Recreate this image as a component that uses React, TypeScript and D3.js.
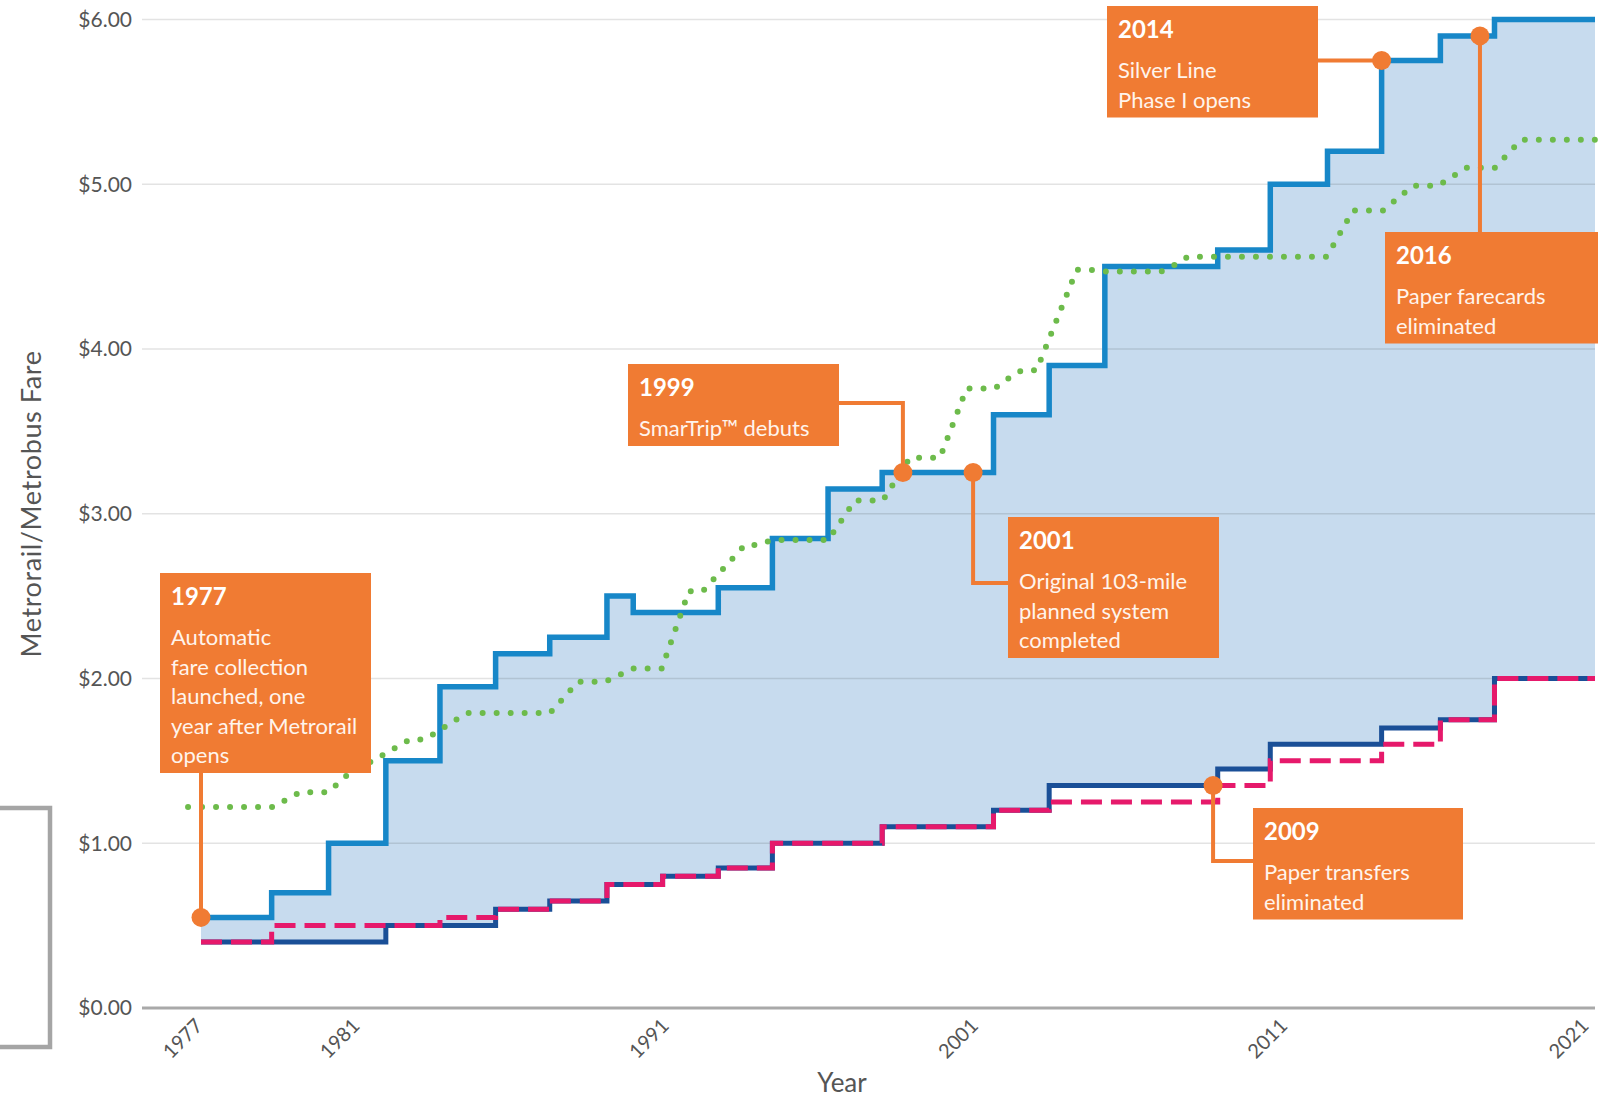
import React from "react";
import * as d3 from "d3";

// fare change dates (fractional years) shared by the three fare series
const fareYears = [
  1977, 1978.8, 1980.25, 1981.9, 1983.65, 1985.45, 1987.2, 1989.05, 1989.9, 1990.85,
  1992.65, 1994.4, 1996.2, 1997.95, 2001.55, 2003.35, 2005.15, 2008.8, 2010.5, 2012.35,
  2014.1, 2016.0, 2017.75, 2021,
];
const railMaxFare = [
  0.55, 0.7, 1.0, 1.5, 1.95, 2.15, 2.25, 2.5, 2.4, 2.4,
  2.55, 2.85, 3.15, 3.25, 3.6, 3.9, 4.5, 4.6, 5.0, 5.2,
  5.75, 5.9, 6.0, 6.0,
];
const railMinFare = [
  0.4, 0.4, 0.4, 0.5, 0.5, 0.6, 0.65, 0.75, 0.75, 0.8,
  0.85, 1.0, 1.0, 1.1, 1.2, 1.35, 1.35, 1.45, 1.6, 1.6,
  1.7, 1.75, 2.0, 2.0,
];
const busFare = [
  0.4, 0.5, 0.5, 0.5, 0.55, 0.6, 0.65, 0.75, 0.75, 0.8,
  0.85, 1.0, 1.0, 1.1, 1.2, 1.25, 1.25, 1.35, 1.5, 1.5,
  1.6, 1.75, 2.0, 2.0,
];

// dotted green series
const cpiYears = [
  1976.67, 1978.83, 1979.52, 1980.24, 1980.71, 1982.68, 1983.17, 1984.51, 1987.21, 1988.11,
  1988.99, 1989.89, 1990.82, 1991.7, 1992.15, 1993.51, 1993.93, 1994.38, 1996.2, 1997.07,
  1997.97, 1998.85, 1999.82, 2000.68, 2001.59, 2002.03, 2002.46, 2002.94, 2004.24, 2004.72,
  2005.15, 2006.98, 2007.41, 2007.84, 2012.33, 2013.17, 2014.14, 2015.11, 2015.92, 2016.85,
  2017.76, 2018.62, 2021,
];
const cpiFare = [
  1.22, 1.22, 1.31, 1.31, 1.41, 1.63, 1.63, 1.79, 1.79, 1.98,
  1.98, 2.06, 2.06, 2.53, 2.53, 2.81, 2.81, 2.84, 2.84, 3.08,
  3.08, 3.34, 3.34, 3.76, 3.76, 3.82, 3.87, 3.87, 4.48, 4.48,
  4.47, 4.47, 4.51, 4.56, 4.56, 4.84, 4.84, 4.99, 4.99, 5.1,
  5.1, 5.27, 5.27,
];

const yTicks = [0, 1, 2, 3, 4, 5, 6];
const xTickYears = [1977, 1981, 1991, 2001, 2011, 2021];

// milestones
const noteTitles = ["1977", "1999", "2001", "2009", "2014", "2016"];
const noteLines = [
  ["Automatic", "fare collection", "launched, one", "year after Metrorail", "opens"],
  ["SmarTrip\u2122 debuts"],
  ["Original 103-mile", "planned system", "completed"],
  ["Paper transfers", "eliminated"],
  ["Silver Line", "Phase I opens"],
  ["Paper farecards", "eliminated"],
];
const noteYears = [1977, 1998.62, 2000.89, 2008.65, 2014.1, 2017.28];
const noteFares = [0.55, 3.25, 3.25, 1.35, 5.75, 5.9];

// layout of the callout boxes (px)
const noteBoxes = [
  { x: 160, y: 573, w: 211, link: "down", ly: 0 },
  { x: 628, y: 364, w: 211, link: "right", ly: 403 },
  { x: 1008, y: 517, w: 211, link: "left", ly: 583 },
  { x: 1253, y: 808, w: 210, link: "left", ly: 861 },
  { x: 1107, y: 6, w: 211, link: "flat", ly: 0 },
  { x: 1385, y: 232, w: 213, link: "up", ly: 0 },
];

const W = 1598;
const H = 1100;
const plotLeft = 142;
const plotRight = 1595;
const FONT = "Lato, 'Open Sans', sans-serif";
const ORANGE = "#f07b33";

const x = d3.scaleLinear().domain([1977, 1981, 2021]).range([201, 358, 1595]);
const y = d3.scaleLinear().domain([0, 6]).range([1008, 19.4]);

type Row = { yr: number; max: number; min: number; bus: number };
const rows: Row[] = fareYears.map((yr, i) => ({
  yr,
  max: railMaxFare[i],
  min: railMinFare[i],
  bus: busFare[i],
}));
const cpiRows = cpiYears.map((yr, i) => ({ yr, v: cpiFare[i] }));

const band = d3
  .area<Row>()
  .x((d) => x(d.yr))
  .y0((d) => y(d.min))
  .y1((d) => y(d.max))
  .curve(d3.curveStepAfter);

const step = (key: "max" | "min" | "bus") =>
  d3
    .line<Row>()
    .x((d) => x(d.yr))
    .y((d) => y(d[key]))
    .curve(d3.curveStepAfter)(rows) as string;

const cpiLine = d3
  .line<{ yr: number; v: number }>()
  .x((d) => x(d.yr))
  .y((d) => y(d.v))(cpiRows) as string;

const boxHeight = (n: number) => 72 + (n - 1) * 29.5 + 10;

function linkPath(i: number) {
  const b = noteBoxes[i];
  const h = boxHeight(noteLines[i].length);
  const dx = x(noteYears[i]);
  const dy = y(noteFares[i]);
  if (b.link === "down") return `M${dx},${b.y + h}V${dy}`;
  if (b.link === "up") return `M${dx},${dy}V${b.y}`;
  if (b.link === "right") return `M${b.x + b.w},${b.ly}H${dx}V${dy}`;
  if (b.link === "left") return `M${dx},${dy}V${b.ly}H${b.x}`;
  return `M${b.x + b.w},${dy}H${dx}`;
}

export default function App() {
  return (
    <svg
      width={W}
      height={H}
      style={{ position: "absolute", left: 0, top: 0, background: "#fff" }}
      fontFamily={FONT}
    >
      {/* partial legend frame at left edge */}
      <rect x={-20} y={808} width={70} height={239} fill="none" stroke="#a5a5a5" strokeWidth={4.5} />

      <path d={band(rows) as string} fill="#c7dbee" />

      {/* grid + y labels */}
      {yTicks.map((t) => (
        <g key={t}>
          <line
            x1={plotLeft}
            x2={plotRight}
            y1={y(t)}
            y2={y(t)}
            stroke={t === 0 ? "#a9a9a9" : "rgba(0,0,0,0.11)"}
            strokeWidth={t === 0 ? 3 : 1.5}
          />
          <text
            x={132}
            y={y(t)}
            dy="0.35em"
            textAnchor="end"
            fontSize={21}
            fill="#555"
          >
            {d3.format("$.2f")(t)}
          </text>
        </g>
      ))}

      {/* x tick labels */}
      {xTickYears.map((yr) => (
        <text
          key={yr}
          transform={`translate(${Math.min(x(yr) + 3, 1590)},${1027}) rotate(-45)`}
          textAnchor="end"
          fontSize={20}
          fill="#555"
        >
          {yr}
        </text>
      ))}

      <text x={842} y={1092} textAnchor="middle" fontSize={26} fill="#555">
        Year
      </text>
      <text
        transform="translate(41,504) rotate(-90)"
        textAnchor="middle"
        fontSize={27}
        letterSpacing={0.6}
        fill="#555"
      >
        Metrorail/Metrobus Fare
      </text>

      {/* series */}
      <path d={step("min")} fill="none" stroke="#1a4f97" strokeWidth={5} />
      <path
        d={step("bus")}
        fill="none"
        stroke="#e6196b"
        strokeWidth={5}
        strokeDasharray="21 9"
      />
      <path d={step("max")} fill="none" stroke="#1787c8" strokeWidth={5.5} />
      <path
        d={cpiLine}
        fill="none"
        stroke="#6dbb4b"
        strokeWidth={6}
        strokeLinecap="round"
        strokeDasharray="0 14"
      />

      {/* callouts */}
      {noteTitles.map((title, i) => {
        const b = noteBoxes[i];
        const h = boxHeight(noteLines[i].length);
        return (
          <g key={title}>
            <path d={linkPath(i)} fill="none" stroke={ORANGE} strokeWidth={4} />
            <circle cx={x(noteYears[i])} cy={y(noteFares[i])} r={9.5} fill={ORANGE} />
            <rect x={b.x} y={b.y} width={b.w} height={h} fill={ORANGE} />
            <text x={b.x + 11} y={b.y + 31.5} fontSize={24} fontWeight={700} fill="#fff">
              {title}
            </text>
            {noteLines[i].map((ln, j) => (
              <text
                key={j}
                x={b.x + 11}
                y={b.y + 72 + j * 29.5}
                fontSize={22}
                fill="#fff4ec"
              >
                {ln}
              </text>
            ))}
          </g>
        );
      })}
    </svg>
  );
}
